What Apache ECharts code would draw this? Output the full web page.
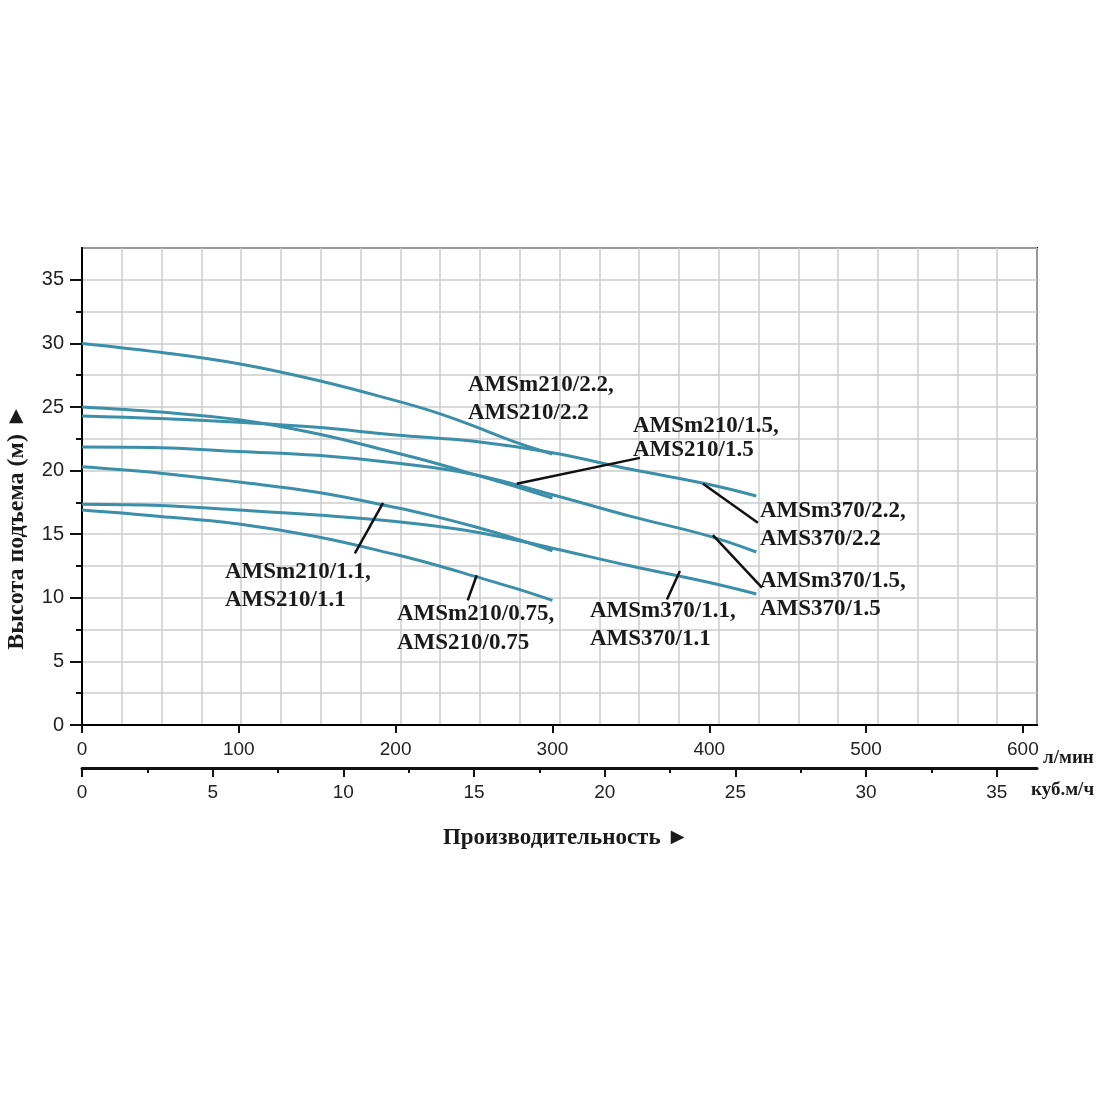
<!DOCTYPE html>
<html><head><meta charset="utf-8">
<script src="https://cdn.jsdelivr.net/npm/echarts@6/dist/echarts.min.js"></script>
<style>html,body{margin:0;padding:0;background:#fff}#c{width:1100px;height:1100px}</style>
</head><body><div id="c"></div>
<script>
// ---- data ----
const flow210 = [0, 50, 100, 150, 200, 225, 250, 275, 300];          // l/min
const flow370 = [0, 50, 100, 150, 200, 250, 300, 350, 400, 430];     // l/min
const head210_22  = [30.0, 29.3, 28.4, 27.1, 25.5, 24.6, 23.5, 22.3, 21.3];
const head210_15  = [25.0, 24.6, 24.0, 22.9, 21.4, 20.6, 19.7, 18.8, 17.85];
const head210_11  = [20.3, 19.8, 19.1, 18.3, 17.1, 16.4, 15.6, 14.7, 13.7];
const head210_075 = [16.9, 16.4, 15.8, 14.8, 13.4, 12.6, 11.7, 10.8, 9.8];
const head370_22  = [24.3, 24.1, 23.8, 23.4, 22.8, 22.3, 21.4, 20.1, 18.9, 18.0];
const head370_15  = [21.85, 21.8, 21.5, 21.2, 20.6, 19.7, 18.1, 16.4, 14.85, 13.6];
const head370_11  = [17.35, 17.25, 16.9, 16.5, 16.0, 15.2, 13.9, 12.5, 11.2, 10.3];
const seriesNames = ['AMSm210/2.2', 'AMSm210/1.5', 'AMSm210/1.1', 'AMSm210/0.75', 'AMSm370/2.2', 'AMSm370/1.5', 'AMSm370/1.1'];
const headTicks = [0, 5, 10, 15, 20, 25, 30, 35];
const headMinorTicks = [2.5, 7.5, 12.5, 17.5, 22.5, 27.5, 32.5];
const flowTicks = [0, 100, 200, 300, 400, 500, 600];
const cubicTicks = [0, 5, 10, 15, 20, 25, 30, 35];
const cubicMinorTicks = [2.5, 7.5, 12.5, 17.5, 22.5, 27.5, 32.5];
const flowMax = 609;
const headMax = 37.5;
const labelTexts = [
  ['AMSm210/2.2,', 'AMS210/2.2'],
  ['AMSm210/1.5,', 'AMS210/1.5'],
  ['AMSm370/2.2,', 'AMS370/2.2'],
  ['AMSm370/1.5,', 'AMS370/1.5'],
  ['AMSm370/1.1,', 'AMS370/1.1'],
  ['AMSm210/0.75,', 'AMS210/0.75'],
  ['AMSm210/1.1,', 'AMS210/1.1']
];

// ---- layout / style (not data) ----
const annotationLayout = [
  {box: [468, 371], lh: 28},
  {box: [633, 414], lh: 24, lead: [[355.8, 21.0], [277.2, 18.96]]},
  {box: [760, 497], lh: 28, lead: [[396, 18.96], [431, 15.9]]},
  {box: [760, 567], lh: 28, lead: [[402.3, 14.93], [433.6, 10.8]]},
  {box: [590, 597], lh: 28, lead: [[381.3, 12.1], [373, 9.87]]},
  {box: [397, 600], lh: 29, lead: [[251.7, 11.77], [246, 9.8]]},
  {box: [225, 558], lh: 28, lead: [[192, 17.46], [174, 13.5]]}
];
const lineColor = '#3b8fa8';
const serif = '"Liberation Serif", "Times New Roman", serif';
const sans = '"Liberation Sans", Arial, sans-serif';

const pairs = (xs, ys) => xs.map((x, i) => [x, ys[i]]);
const curveData = [
  pairs(flow210, head210_22), pairs(flow210, head210_15), pairs(flow210, head210_11), pairs(flow210, head210_075),
  pairs(flow370, head370_22), pairs(flow370, head370_15), pairs(flow370, head370_11)
];

const chart = echarts.init(document.getElementById('c'), null, {renderer: 'canvas'});
const hidden = {axisLine: {show: false}, axisTick: {show: false}, axisLabel: {show: false}};
chart.setOption({
  backgroundColor: '#fff',
  animation: false,
  grid: {left: 82, right: 63, top: 248, bottom: 375, show: true, borderColor: '#000', borderWidth: 2, backgroundColor: 'transparent'},
  xAxis: [
    {type: 'value', min: 0, max: flowMax, interval: 100, position: 'bottom',
      axisLine: {onZero: false, lineStyle: {color: '#000', width: 2}},
      axisTick: {length: 8, customValues: flowTicks, lineStyle: {color: '#111', width: 2}},
      axisLabel: {customValues: flowTicks, fontSize: 19, color: '#222', margin: 15, fontFamily: sans},
      splitLine: {show: false}},
    {type: 'value', min: 0, max: flowMax * 0.06, interval: 5, position: 'bottom', offset: 43,
      axisLine: {onZero: false, lineStyle: {color: '#111', width: 3}},
      axisTick: {length: 9, customValues: cubicTicks, lineStyle: {color: '#111', width: 2}},
      axisLabel: {customValues: cubicTicks, fontSize: 19, color: '#222', margin: 15, fontFamily: sans},
      splitLine: {show: false}},
    {type: 'value', min: 0, max: flowMax * 0.06, interval: 2.5, position: 'bottom', offset: 43,
      axisLine: {show: false, onZero: false},
      axisTick: {length: 5, customValues: cubicMinorTicks, lineStyle: {color: '#111', width: 2}},
      axisLabel: {show: false}, splitLine: {show: false}},
    Object.assign({type: 'value', min: 0, max: 24, interval: 1, position: 'top',
      splitLine: {show: true, lineStyle: {color: '#cccccc', width: 1.5}}}, hidden)
  ],
  yAxis: [
    {type: 'value', min: 0, max: headMax, interval: 2.5, position: 'left',
      axisLine: {show: true, onZero: false, lineStyle: {color: '#000', width: 2}},
      axisTick: {show: true, length: 12, customValues: headTicks, lineStyle: {color: '#111', width: 2}},
      axisLabel: {customValues: headTicks, fontSize: 20, color: '#222', margin: 18, fontFamily: sans},
      splitLine: {show: false}},
    {type: 'value', min: 0, max: headMax, interval: 2.5, position: 'left',
      axisLine: {show: false, onZero: false},
      axisTick: {show: true, length: 6, customValues: headMinorTicks, lineStyle: {color: '#111', width: 2}},
      axisLabel: {show: false}, splitLine: {show: false}},
    Object.assign({type: 'value', min: 0, max: headMax, interval: 2.5, position: 'right',
      splitLine: {show: true, lineStyle: {color: '#cccccc', width: 1.5}}}, hidden)
  ],
  series: curveData.map((d, i) => ({
    name: seriesNames[i], type: 'line', xAxisIndex: 0, yAxisIndex: 0, data: d,
    smooth: 0.4, symbol: 'none', lineStyle: {color: lineColor, width: 3}, z: 3
  }))
});

const graphics = [];
annotationLayout.forEach((a, i) => {
  graphics.push({type: 'text', x: a.box[0], y: a.box[1], z: 10,
    style: {text: labelTexts[i].join('\n'), fontSize: 23, fontWeight: 'bold', fontFamily: serif,
      lineHeight: a.lh, fill: '#1a1a1a', align: 'left', verticalAlign: 'top'}});
  if (a.lead) {
    const p1 = chart.convertToPixel({xAxisIndex: 0, yAxisIndex: 0}, a.lead[0]);
    const p2 = chart.convertToPixel({xAxisIndex: 0, yAxisIndex: 0}, a.lead[1]);
    graphics.push({type: 'line', z: 9, shape: {x1: p1[0], y1: p1[1], x2: p2[0], y2: p2[1]},
      style: {stroke: '#111', lineWidth: 2.5}});
  }
});
graphics.push({type: 'text', x: 17, y: 527, rotation: Math.PI / 2,
  style: {text: 'Высота подъема (м) ►', fontSize: 24, fontWeight: 'bold', fontFamily: serif, fill: '#1a1a1a', align: 'center', verticalAlign: 'middle'}});
graphics.push({type: 'text', x: 566, y: 838,
  style: {text: 'Производительность ►', fontSize: 23, fontWeight: 'bold', fontFamily: serif, fill: '#1a1a1a', align: 'center', verticalAlign: 'middle'}});
graphics.push({type: 'text', x: 1043, y: 758,
  style: {text: 'л/мин', fontSize: 19, fontWeight: 'bold', fontFamily: serif, fill: '#1a1a1a', align: 'left', verticalAlign: 'middle'}});
graphics.push({type: 'text', x: 1031, y: 790,
  style: {text: 'куб.м/ч', fontSize: 19, fontWeight: 'bold', fontFamily: serif, fill: '#1a1a1a', align: 'left', verticalAlign: 'middle'}});
chart.setOption({graphic: graphics});
</script>
</body></html>
